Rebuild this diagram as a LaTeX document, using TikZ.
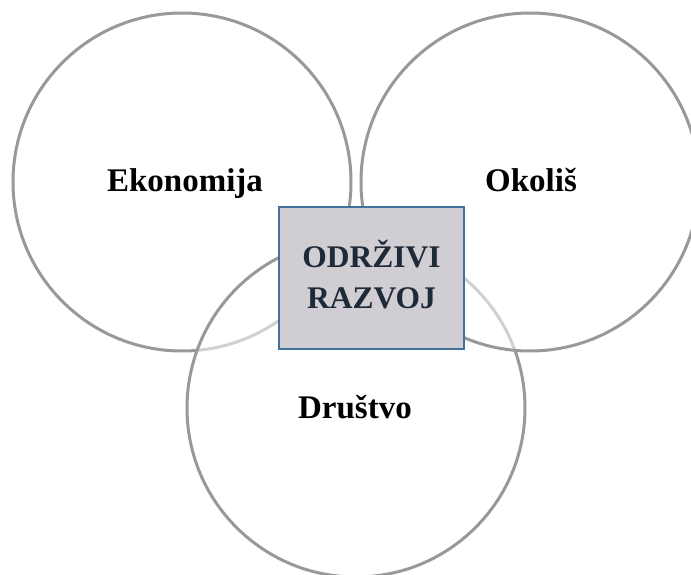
\documentclass[tikz,border=0pt]{standalone}
\usepackage{fontspec}
\setmainfont{Liberation Serif}
\definecolor{ringgray}{RGB}{153,153,153}
\definecolor{boxfill}{RGB}{208,206,211}
\definecolor{boxline}{RGB}{65,113,156}
\definecolor{boxtext}{RGB}{31,42,56}
\tikzset{
  ring/.style={draw=ringgray, line width=3pt, fill=white, fill opacity=0.55},
  label/.style={font=\bfseries\fontsize{33}{38}\selectfont, text=black, anchor=base, inner sep=0pt},
  core/.style={draw=boxline, line width=1.5pt, fill=boxfill, minimum width=185pt, minimum height=142pt, inner sep=0pt},
  coretext/.style={align=center, text=boxtext, inner sep=0pt, font=\bfseries\fontsize{31.5}{41}\selectfont}
}
\begin{document}
\begin{tikzpicture}[x=1pt,y=-1pt]
\useasboundingbox (0,0) rectangle (691,575);
\clip (0,0) rectangle (691,575);
\fill[white] (0,0) rectangle (691,575);
\path[ring] (182,182) circle[radius=169];
\path[ring] (356,408) circle[radius=169];
\path[ring] (530,182) circle[radius=169];
\node[core] (center) at (371.5,278) {};
\node[coretext] (centertext) at (371.5,274.5) {ODRŽIVI\\RAZVOJ};
\node[label] (eko) at (185,192) {Ekonomija};
\node[label] (oko) at (531,192) {Okoliš};
\node[label] (dru) at (355,418) {Društvo};
\end{tikzpicture}
\end{document}
